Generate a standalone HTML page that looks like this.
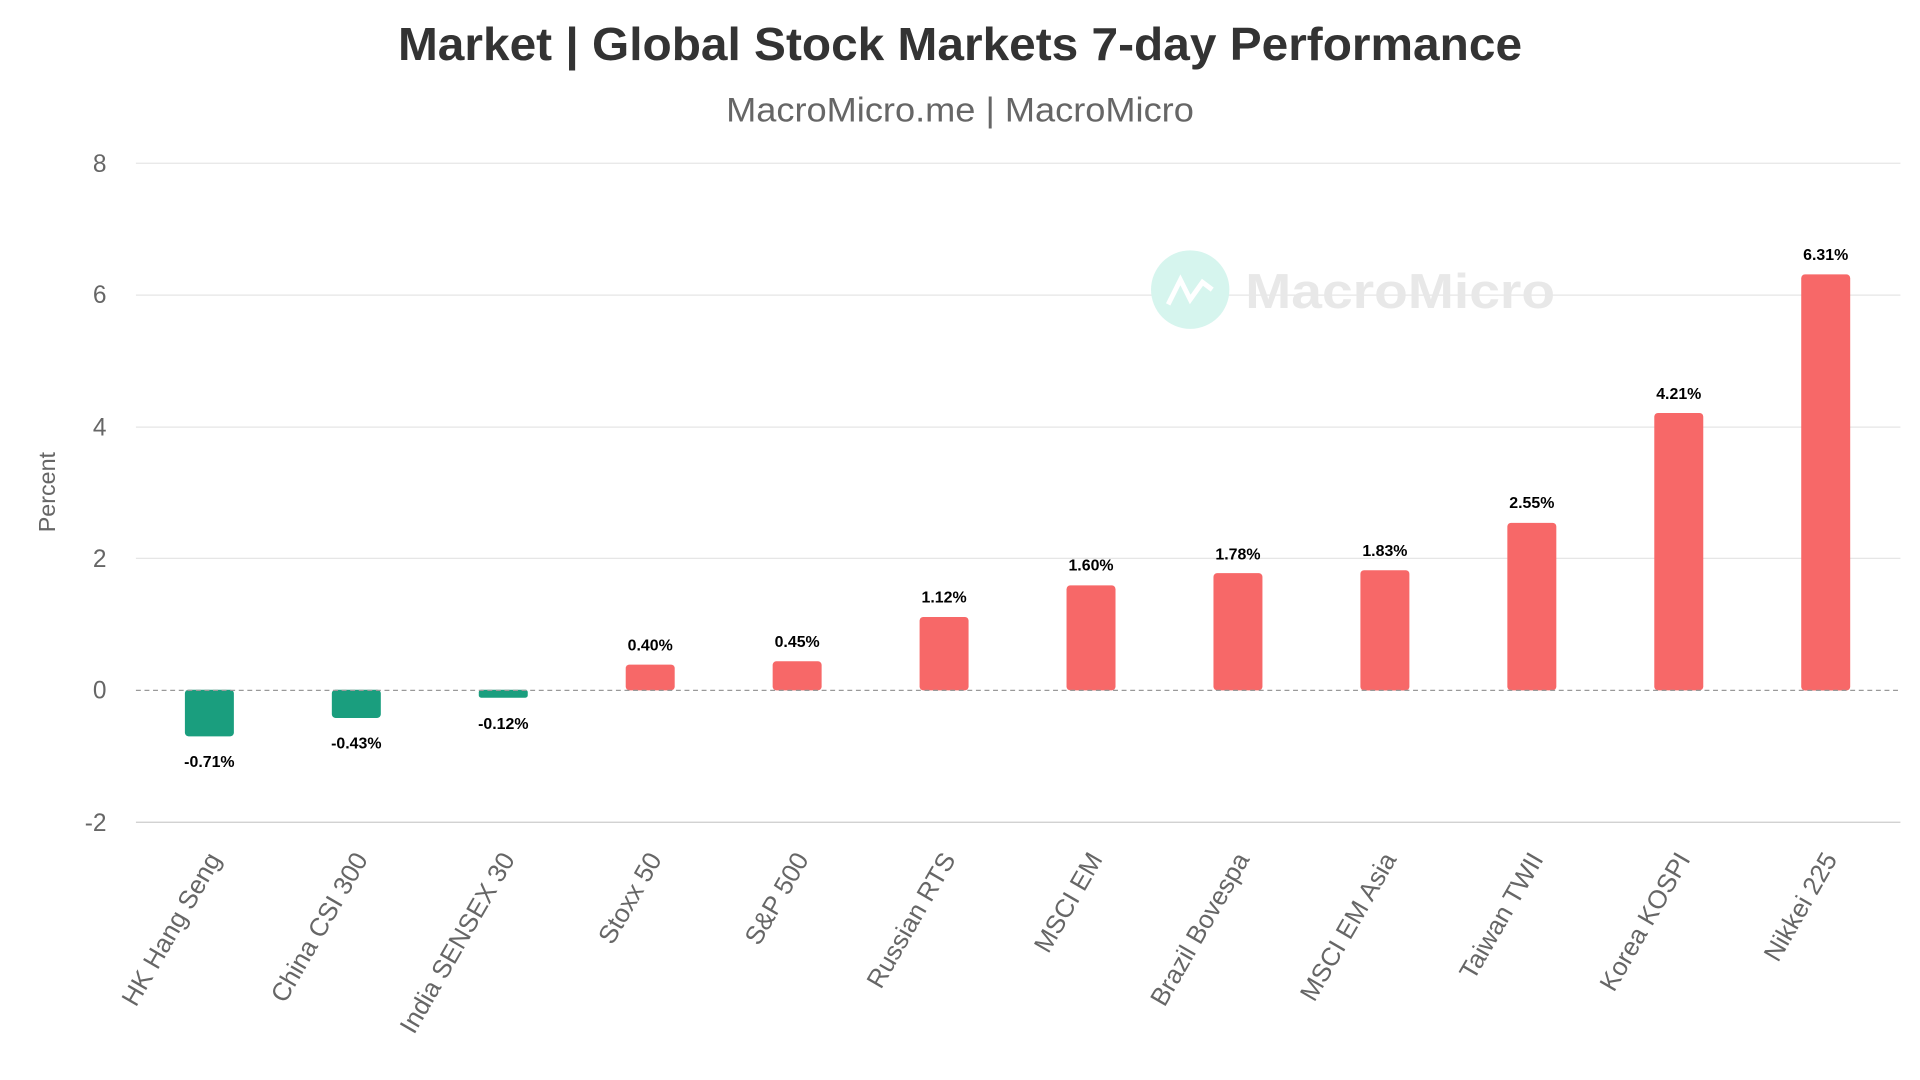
<!DOCTYPE html>
<html><head><style>
html,body{margin:0;padding:0;background:#fff;overflow:hidden}
svg{display:block;width:100vw;height:100vh}
text{font-family:"Liberation Sans",sans-serif}
</style></head><body>
<svg viewBox="0 0 1568 880" preserveAspectRatio="none" xmlns="http://www.w3.org/2000/svg">
<text x="784" y="49" text-anchor="middle" font-size="38" font-weight="bold" fill="#333" textLength="918" lengthAdjust="spacingAndGlyphs">Market | Global Stock Markets 7-day Performance</text>
<text x="784" y="99" text-anchor="middle" font-size="28" fill="#666" textLength="382" lengthAdjust="spacingAndGlyphs">MacroMicro.me | MacroMicro</text>
<g stroke="#e6e6e6" stroke-width="1">
<line x1="111" x2="1552" y1="133" y2="133"/><line x1="111" x2="1552" y1="240.5" y2="240.5"/>
<line x1="111" x2="1552" y1="348" y2="348"/><line x1="111" x2="1552" y1="455" y2="455"/>
<line x1="111" x2="1552" y1="670" y2="670" stroke="#ccc"/>
</g>
<g font-size="20" fill="#666" text-anchor="end">
<text x="87" y="140">8</text><text x="87" y="247">6</text><text x="87" y="355">4</text>
<text x="87" y="462">2</text><text x="87" y="569">0</text><text x="87" y="677">-2</text>
</g>
<text transform="translate(45,401) rotate(-90)" text-anchor="middle" font-size="19" fill="#666">Percent</text>
<circle cx="972" cy="236" r="32" fill="#d6f5ee"/>
<path d="M954 248 L964 228 L972 244 L982 230 L990 236" stroke="#fff" stroke-width="4" fill="none"/>
<text x="1017" y="251" font-size="40" font-weight="bold" fill="#e8e8e8" textLength="253" lengthAdjust="spacingAndGlyphs">MacroMicro</text>
<g fill="#1a9e7e">
<rect x="151" y="562" width="40" height="38" rx="3"/>
<rect x="271" y="562" width="40" height="23" rx="3"/>
<rect x="391" y="562" width="40" height="6.5" rx="2"/>
</g>
<g fill="#f76868">
<rect x="511" y="541.5" width="40" height="21" rx="3"/>
<rect x="631" y="538.8" width="40" height="23.7" rx="3"/>
<rect x="751" y="502.7" width="40" height="59.8" rx="3"/>
<rect x="871" y="477" width="40" height="85.5" rx="3"/>
<rect x="991" y="467" width="40" height="95.5" rx="3"/>
<rect x="1111" y="464.6" width="40" height="98" rx="3"/>
<rect x="1231" y="426" width="40" height="136.5" rx="3"/>
<rect x="1351" y="336.5" width="40" height="226" rx="3"/>
<rect x="1471" y="223.6" width="40" height="339" rx="3"/>
</g>
<line x1="111" x2="1552" y1="562.5" y2="562.5" stroke="#999" stroke-dasharray="4,3"/>
<g font-size="13" font-weight="bold" fill="#000" text-anchor="middle">
<text x="171" y="625">-0.71%</text><text x="291" y="610">-0.43%</text><text x="411" y="594">-0.12%</text>
<text x="531" y="530">0.40%</text><text x="651" y="527">0.45%</text><text x="771" y="491">1.12%</text>
<text x="891" y="465">1.60%</text><text x="1011" y="456">1.78%</text><text x="1131" y="453">1.83%</text>
<text x="1251" y="414">2.55%</text><text x="1371" y="325">4.21%</text><text x="1491" y="212">6.31%</text>
</g>
<g font-size="21" fill="#666" text-anchor="end">
<text transform="translate(181,700) rotate(-60)">HK Hang Seng</text>
<text transform="translate(301,700) rotate(-60)">China CSI 300</text>
<text transform="translate(421,700) rotate(-60)">India SENSEX 30</text>
<text transform="translate(541,700) rotate(-60)">Stoxx 50</text>
<text transform="translate(661,700) rotate(-60)">S&amp;P 500</text>
<text transform="translate(781,700) rotate(-60)">Russian RTS</text>
<text transform="translate(901,700) rotate(-60)">MSCI EM</text>
<text transform="translate(1021,700) rotate(-60)">Brazil Bovespa</text>
<text transform="translate(1141,700) rotate(-60)">MSCI EM Asia</text>
<text transform="translate(1261,700) rotate(-60)">Taiwan TWII</text>
<text transform="translate(1381,700) rotate(-60)">Korea KOSPI</text>
<text transform="translate(1501,700) rotate(-60)">Nikkei 225</text>
</g>
</svg>
</body></html>
